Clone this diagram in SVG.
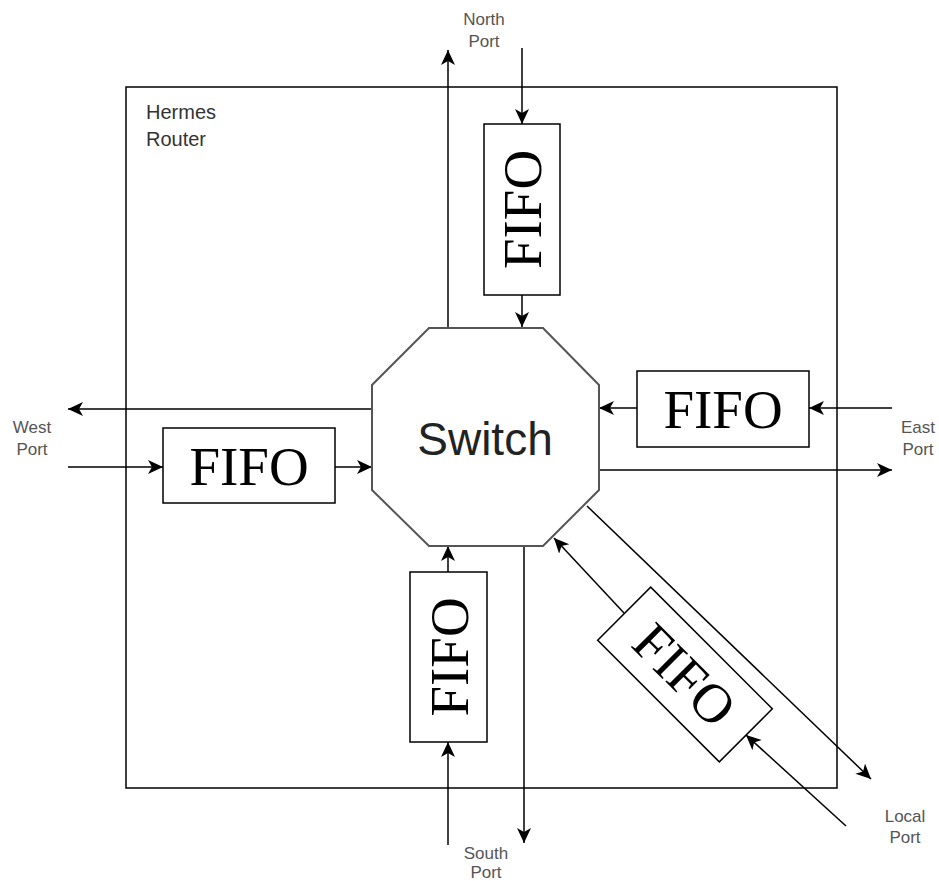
<svg xmlns="http://www.w3.org/2000/svg" width="939" height="881" viewBox="0 0 939 881">
<style>
.frame{fill:none;stroke:#000;stroke-width:1.5}
.box{fill:#fff;stroke:#000;stroke-width:1.5}
.oct{fill:#fff;stroke:#555;stroke-width:2}
.fifo{font-family:"Liberation Serif","Times New Roman",serif;font-size:55px;fill:#000;text-anchor:middle}
.sw{font-family:"Liberation Sans",Arial,sans-serif;font-size:46px;fill:#222;text-anchor:middle}
.lbl{font-family:"Liberation Sans",Arial,sans-serif;font-size:17px;fill:#555;text-anchor:middle}
.title{font-family:"Liberation Sans",Arial,sans-serif;font-size:20px;fill:#333}
.conn line{stroke:#000;stroke-width:1.5;fill:none;marker-end:url(#arr)}
</style>
<defs>
<marker id="arr" markerUnits="userSpaceOnUse" markerWidth="16" markerHeight="15" refX="15" refY="7" orient="auto" viewBox="0 0 16 15">
<path d="M0,0 L15,7 L0,14 L4,7 Z" fill="#000"/>
</marker>
</defs>
<rect width="939" height="881" fill="#fff"/>
<g id="router">
<rect class="frame" x="126" y="87" width="711" height="701"/>
<text class="title" x="146" y="119">Hermes</text>
<text class="title" x="146" y="146">Router</text>
</g>
<g id="connectors" class="conn">
<line x1="448" y1="327" x2="448" y2="50"/>
<line x1="522" y1="48" x2="522" y2="124"/>
<line x1="522" y1="295" x2="522" y2="327"/>
<line x1="372" y1="409" x2="68" y2="409"/>
<line x1="68" y1="467" x2="163" y2="467"/>
<line x1="335" y1="467" x2="372" y2="467"/>
<line x1="892" y1="408" x2="809" y2="408"/>
<line x1="637" y1="408" x2="599" y2="408"/>
<line x1="599" y1="470" x2="892" y2="470"/>
<line x1="448" y1="845" x2="448" y2="742"/>
<line x1="448" y1="572" x2="448" y2="546"/>
<line x1="524" y1="546" x2="524" y2="843"/>
<line x1="846" y1="826" x2="746" y2="735"/>
<line x1="624" y1="613" x2="554" y2="538"/>
<line x1="587" y1="506" x2="871" y2="779"/>
</g>
<g id="switch">
<polygon class="oct" points="429,328 543,328 599,385 599,490 543,546 429,546 372,490 372,385"/>
<text class="sw" x="485" y="455">Switch</text>
</g>
<g id="fifo-north">
<rect class="box" x="484" y="124" width="76" height="171"/>
<text class="fifo" transform="translate(522,209.5) rotate(-90)" x="0" y="19">FIFO</text>
</g>
<g id="fifo-west">
<rect class="box" x="163" y="428" width="172" height="75"/>
<text class="fifo" x="249" y="485">FIFO</text>
</g>
<g id="fifo-east">
<rect class="box" x="637" y="371" width="172" height="76"/>
<text class="fifo" x="723" y="428">FIFO</text>
</g>
<g id="fifo-south">
<rect class="box" x="410" y="572" width="77" height="170"/>
<text class="fifo" transform="translate(448.5,657) rotate(-90)" x="0" y="19">FIFO</text>
</g>
<g id="fifo-local">
<rect class="box" transform="translate(685,674.5) rotate(45)" x="-86" y="-37.5" width="172" height="75"/>
<text class="fifo" transform="translate(685,674.5) rotate(45)" x="0" y="19">FIFO</text>
</g>
<g id="labels">
<text class="lbl" x="484" y="25">North</text>
<text class="lbl" x="484" y="47">Port</text>
<text class="lbl" x="32" y="433">West</text>
<text class="lbl" x="32" y="455">Port</text>
<text class="lbl" x="918" y="433">East</text>
<text class="lbl" x="918" y="455">Port</text>
<text class="lbl" x="486" y="859">South</text>
<text class="lbl" x="486" y="878">Port</text>
<text class="lbl" x="905" y="822">Local</text>
<text class="lbl" x="905" y="843">Port</text>
</g>
</svg>
